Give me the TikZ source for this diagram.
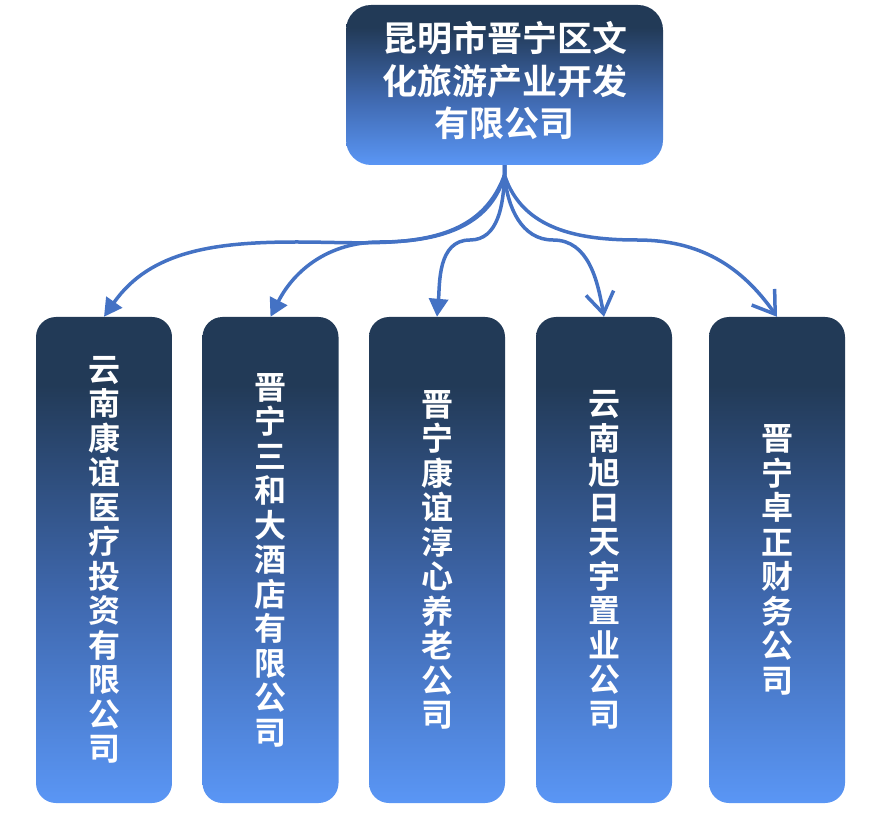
\documentclass[tikz,border=0pt]{standalone}
\usepackage{fontspec}
\usepackage{tikz}
\usetikzlibrary{arrows.meta}
\newfontfamily\cjk{Noto Sans CJK SC}[BoldFont={Noto Sans CJK SC Bold}]
\definecolor{navy}{HTML}{223A57}
\definecolor{midblue}{HTML}{3F68AE}
\definecolor{skyblue}{HTML}{5A96F5}
\definecolor{linkblue}{HTML}{4472C4}
\pgfdeclareverticalshading{boxshade}{100bp}{color(0bp)=(skyblue); color(25bp)=(skyblue); color(46bp)=(midblue); color(68bp)=(navy); color(100bp)=(navy)}

\begin{document}
\begin{tikzpicture}[x=1pt, y=1pt,
  topbox/.style = {rectangle, rounded corners=25pt, shading=boxshade, minimum width=317pt, minimum height=160pt, inner sep=0pt, text=white, align=center, font=\cjk\bfseries\fontsize{35pt}{41pt}\selectfont},
  subbox/.style = {rectangle, rounded corners=20pt, shading=boxshade, minimum width=136pt, minimum height=486pt, inner sep=0pt, text=white, align=center, font=\cjk\bfseries\fontsize{32pt}{34.5pt}\selectfont},
  link/.style = {draw=linkblue, line width=3.5pt},
  linkfill/.style = {link, -{Triangle[length=18pt,width=19pt]}},
  linkopen/.style = {link, -{Straight Barb[length=21pt,width=28pt]}}]
  \useasboundingbox (0,0) rectangle (888,812);
  % parent company
  \node[topbox] (top) at (504.5,727) {\raisebox{-4pt}{\begin{tabular}{@{}c@{}}昆明市晋宁区文\\化旅游产业开发\\有限公司\end{tabular}}};
  % subsidiaries
  \node[subbox] (c1) at (104,252) {云\\南\\康\\谊\\医\\疗\\投\\资\\有\\限\\公\\司};
  \node[subbox] (c2) at (270.5,252) {晋\\宁\\三\\和\\大\\酒\\店\\有\\限\\公\\司};
  \node[subbox] (c3) at (437,252) {晋\\宁\\康\\谊\\淳\\心\\养\\老\\公\\司};
  \node[subbox] (c4) at (604,252) {云\\南\\旭\\日\\天\\宇\\置\\业\\公\\司};
  \node[subbox] (c5) at (777,252) {晋\\宁\\卓\\正\\财\\务\\公\\司};
  % fork and bends
  \coordinate (fork) at (504.5,637);
  \coordinate (m1) at (297,570);
  \coordinate (m2) at (380,570);
  \coordinate (m3) at (470,572);
  \coordinate (m4) at (553,572);
  \coordinate (m5) at (637,572);
  \draw[linkfill] (top.south) -- (fork) to[out=-110,in=0] (m1) to[out=180,in=55] (c1.north);
  \draw[linkfill] (top.south) -- (fork) to[out=-105,in=0] (m2) to[out=180,in=63] (c2.north);
  \draw[linkfill] (top.south) -- (fork) to[out=-92,in=0] (m3) to[out=180,in=85] (c3.north);
  \draw[linkopen] (top.south) -- (fork) to[out=-85,in=180] (m4) to[out=0,in=100] (c4.north);
  \draw[linkopen] (top.south) -- (fork) to[out=-72,in=180] (m5) to[out=0,in=125] (c5.north);
\end{tikzpicture}
\end{document}
